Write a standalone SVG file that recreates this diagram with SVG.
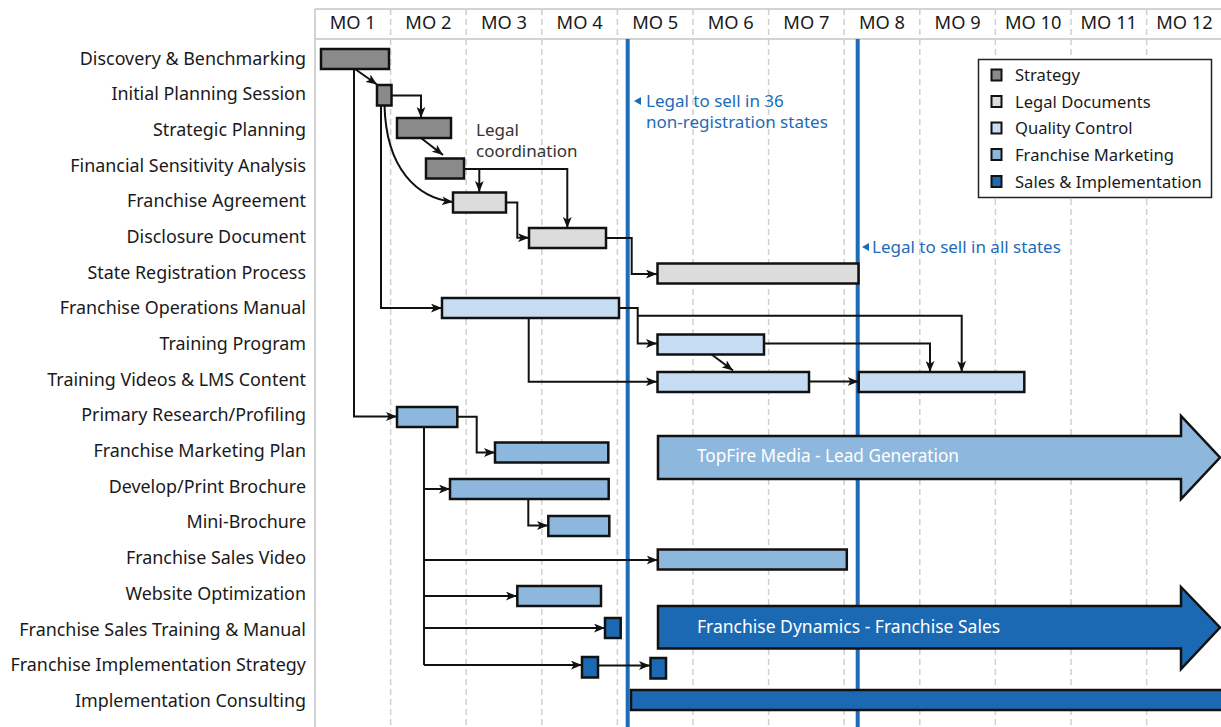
<svg xmlns="http://www.w3.org/2000/svg" width="1221" height="727" viewBox="0 0 1221 727">
<defs>
<marker id="ah" viewBox="0 0 10 8" refX="10" refY="4" markerWidth="11" markerHeight="9" orient="auto" markerUnits="userSpaceOnUse"><path d="M0,0 L10,4 L0,8 L2.5,4 z" fill="#111"/></marker>
<style>
text{font-family:"Noto Sans","DejaVu Sans",sans-serif;font-size:17px;fill:#1a1a1a}
.hd{text-anchor:middle;font-size:18.3px}
.lb{text-anchor:end;font-size:17.9px}
.lgt{font-size:16.6px}
.grid{stroke:#cfcfcf;stroke-width:1.5;stroke-dasharray:6 4}
.frame{stroke:#c4c4c4;stroke-width:1.5;fill:none}
.ms{stroke:#1e6bb8;stroke-width:4}
.note{fill:#1e6bb8}
.bar{stroke:#111;stroke-width:2.5}
.st{fill:#8a8a8a}
.lg{fill:#dcdcdc}
.qc{fill:#c6dcf2}
.fm{fill:#8db7dc}
.si{fill:#1c69b3}
.cn path{fill:none;stroke:#111;stroke-width:2}
.ar{stroke:#111;stroke-width:2.5}
.wt{fill:#ffffff}
</style>
</defs>
<rect width="1221" height="727" fill="#ffffff"/>
<g id="grid">
<line class="frame" x1="315" y1="9" x2="1221" y2="9"/>
<line class="frame" x1="315" y1="39" x2="1221" y2="39"/>
<line class="frame" x1="315" y1="9" x2="315" y2="727"/>
<line class="grid" x1="390.6" y1="9" x2="390.6" y2="727"/>
<line class="grid" x1="466.2" y1="9" x2="466.2" y2="727"/>
<line class="grid" x1="541.8" y1="9" x2="541.8" y2="727"/>
<line class="grid" x1="617.4" y1="9" x2="617.4" y2="727"/>
<line class="grid" x1="693" y1="9" x2="693" y2="727"/>
<line class="grid" x1="768.6" y1="9" x2="768.6" y2="727"/>
<line class="grid" x1="844.2" y1="9" x2="844.2" y2="727"/>
<line class="grid" x1="919.8" y1="9" x2="919.8" y2="727"/>
<line class="grid" x1="995.4" y1="9" x2="995.4" y2="727"/>
<line class="grid" x1="1071" y1="9" x2="1071" y2="727"/>
<line class="grid" x1="1146.6" y1="9" x2="1146.6" y2="727"/>
</g>
<g id="header">
<text class="hd" x="352.8" y="28.5">MO 1</text>
<text class="hd" x="428.4" y="28.5">MO 2</text>
<text class="hd" x="504" y="28.5">MO 3</text>
<text class="hd" x="579.6" y="28.5">MO 4</text>
<text class="hd" x="655.2" y="28.5">MO 5</text>
<text class="hd" x="730.8" y="28.5">MO 6</text>
<text class="hd" x="806.4" y="28.5">MO 7</text>
<text class="hd" x="882" y="28.5">MO 8</text>
<text class="hd" x="957.6" y="28.5">MO 9</text>
<text class="hd" x="1033.2" y="28.5">MO 10</text>
<text class="hd" x="1108.8" y="28.5">MO 11</text>
<text class="hd" x="1184.4" y="28.5">MO 12</text>
</g>
<g id="labels">
<text class="lb" x="306" y="65">Discovery &amp; Benchmarking</text>
<text class="lb" x="306" y="100">Initial Planning Session</text>
<text class="lb" x="306" y="136">Strategic Planning</text>
<text class="lb" x="306" y="172">Financial Sensitivity Analysis</text>
<text class="lb" x="306" y="207">Franchise Agreement</text>
<text class="lb" x="306" y="243">Disclosure Document</text>
<text class="lb" x="306" y="279">State Registration Process</text>
<text class="lb" x="306" y="314">Franchise Operations Manual</text>
<text class="lb" x="306" y="350">Training Program</text>
<text class="lb" x="306" y="386">Training Videos &amp; LMS Content</text>
<text class="lb" x="306" y="421">Primary Research/Profiling</text>
<text class="lb" x="306" y="457">Franchise Marketing Plan</text>
<text class="lb" x="306" y="493">Develop/Print Brochure</text>
<text class="lb" x="306" y="528">Mini-Brochure</text>
<text class="lb" x="306" y="564">Franchise Sales Video</text>
<text class="lb" x="306" y="600">Website Optimization</text>
<text class="lb" x="306" y="636">Franchise Sales Training &amp; Manual</text>
<text class="lb" x="306" y="671">Franchise Implementation Strategy</text>
<text class="lb" x="306" y="707">Implementation Consulting</text>
</g>
<g id="milestones">
<line class="ms" x1="627.7" y1="39" x2="627.7" y2="727"/>
<line class="ms" x1="857.7" y1="39" x2="857.7" y2="727"/>
<path class="note" d="M634,101 L641,97 L641,105 z"/>
<text class="note" x="646" y="107">Legal to sell in 36</text>
<text class="note" x="646" y="128">non-registration states</text>
<path class="note" d="M862,247 L869,243 L869,251 z"/>
<text class="note" x="872" y="253">Legal to sell in all states</text>
<text x="476" y="136" style="fill:#333">Legal</text>
<text x="476" y="157" style="fill:#333">coordination</text>
</g>
<g id="connectors" class="cn">
<path d="M355,69 L377,84.5" marker-end="url(#ah)"/>
<path d="M354,69 V416.5 H397" marker-end="url(#ah)"/>
<path d="M391,95.5 H421 V118" marker-end="url(#ah)"/>
<path d="M381,105 V308 H442" marker-end="url(#ah)"/>
<path d="M384.5,105 C386,170 418,198 453,202" marker-end="url(#ah)"/>
<path d="M421,138 L443,155" marker-end="url(#ah)"/>
<path d="M464,169 H567.3 V228" marker-end="url(#ah)"/>
<path d="M479.3,169 V192" marker-end="url(#ah)"/>
<path d="M506,202.5 H517.3 V237.7 H529" marker-end="url(#ah)"/>
<path d="M606,238 H631.7 V274 H657" marker-end="url(#ah)"/>
<path d="M619,308 H637.7 V343.5 H657" marker-end="url(#ah)"/>
<path d="M637.7,315.7 H961.7 V372" marker-end="url(#ah)"/>
<path d="M764,343.5 H930 V372" marker-end="url(#ah)"/>
<path d="M711,354 L733,370.5" marker-end="url(#ah)"/>
<path d="M809,381.5 H858.7" marker-end="url(#ah)"/>
<path d="M528.7,318 V381.7 H657" marker-end="url(#ah)"/>
<path d="M457,416.7 H476.7 V452.5 H495" marker-end="url(#ah)"/>
<path d="M424,427 V665"/>
<path d="M424,489 H450" marker-end="url(#ah)"/>
<path d="M424,560 H657.8" marker-end="url(#ah)"/>
<path d="M424,596 H517" marker-end="url(#ah)"/>
<path d="M424,628 H605" marker-end="url(#ah)"/>
<path d="M424,665 H582" marker-end="url(#ah)"/>
<path d="M528.3,499 V525.5 H548" marker-end="url(#ah)"/>
<path d="M598,665.5 H650" marker-end="url(#ah)"/>
</g>
<g id="discovery"><rect class="bar st" x="321" y="49" width="68" height="20"/></g>
<g id="initial-planning"><rect class="bar st" x="377" y="85" width="14.5" height="20.5"/></g>
<g id="strategic-planning"><rect class="bar st" x="397" y="118" width="54" height="20"/></g>
<g id="financial-analysis"><rect class="bar st" x="426" y="158.5" width="38" height="20"/></g>
<g id="franchise-agreement"><rect class="bar lg" x="453" y="192.5" width="53" height="20"/></g>
<g id="disclosure-document"><rect class="bar lg" x="529" y="228" width="77" height="20"/></g>
<g id="state-registration"><rect class="bar lg" x="657.5" y="263.5" width="201" height="20"/></g>
<g id="operations-manual"><rect class="bar qc" x="442" y="298" width="177" height="20"/></g>
<g id="training-program"><rect class="bar qc" x="657.5" y="334.5" width="106.5" height="20"/></g>
<g id="training-videos">
<rect class="bar qc" x="657.5" y="372" width="151.5" height="20"/>
<rect class="bar qc" x="858.7" y="372" width="165.6" height="20"/>
</g>
<g id="primary-research"><rect class="bar fm" x="397" y="407" width="60.3" height="20"/></g>
<g id="marketing-plan"><rect class="bar fm" x="495" y="442.5" width="113.3" height="20"/></g>
<g id="topfire">
<path class="ar fm" d="M658,436 H1181 V416 L1220,457.5 L1181,499 V479 H658 z"/>
<text class="wt" x="697" y="462" style="font-size:17.2px">TopFire Media - Lead Generation</text>
</g>
<g id="brochure"><rect class="bar fm" x="450" y="479" width="158.7" height="20"/></g>
<g id="mini-brochure"><rect class="bar fm" x="548.3" y="516" width="61" height="20"/></g>
<g id="sales-video"><rect class="bar fm" x="657.8" y="549.5" width="189" height="20"/></g>
<g id="website"><rect class="bar fm" x="517.3" y="586" width="83.7" height="20"/></g>
<g id="sales-training"><rect class="bar si" x="605" y="618" width="15.7" height="20"/></g>
<g id="franchise-dynamics">
<path class="ar si" d="M658,606 H1181 V587 L1220,627.5 L1181,669 V648.5 H658 z"/>
<text class="wt" x="697" y="633" style="font-size:17.5px">Franchise Dynamics - Franchise Sales</text>
</g>
<g id="implementation-strategy">
<rect class="bar si" x="582" y="657" width="16" height="20.5"/>
<rect class="bar si" x="650.5" y="658" width="15.5" height="20.5"/>
</g>
<g id="implementation-consulting"><rect class="bar si" x="631" y="690" width="600" height="20"/></g>
<g id="legend">
<rect x="978.5" y="59.5" width="233" height="138" fill="#ffffff" stroke="#222" stroke-width="1.5"/>
<rect class="st" x="991.5" y="69.5" width="10" height="11" stroke="#111" stroke-width="2"/>
<text class="lgt" x="1015" y="81">Strategy</text>
<rect class="lg" x="991.5" y="96" width="10" height="11" stroke="#111" stroke-width="2"/>
<text class="lgt" x="1015" y="107.5">Legal Documents</text>
<rect class="qc" x="991.5" y="122.5" width="10" height="11" stroke="#111" stroke-width="2"/>
<text class="lgt" x="1015" y="134">Quality Control</text>
<rect class="fm" x="991.5" y="149" width="10" height="11" stroke="#111" stroke-width="2"/>
<text class="lgt" x="1015" y="161">Franchise Marketing</text>
<rect class="si" x="991.5" y="176" width="10" height="11" stroke="#111" stroke-width="2"/>
<text class="lgt" x="1015" y="187.5">Sales &amp; Implementation</text>
</g>
</svg>
